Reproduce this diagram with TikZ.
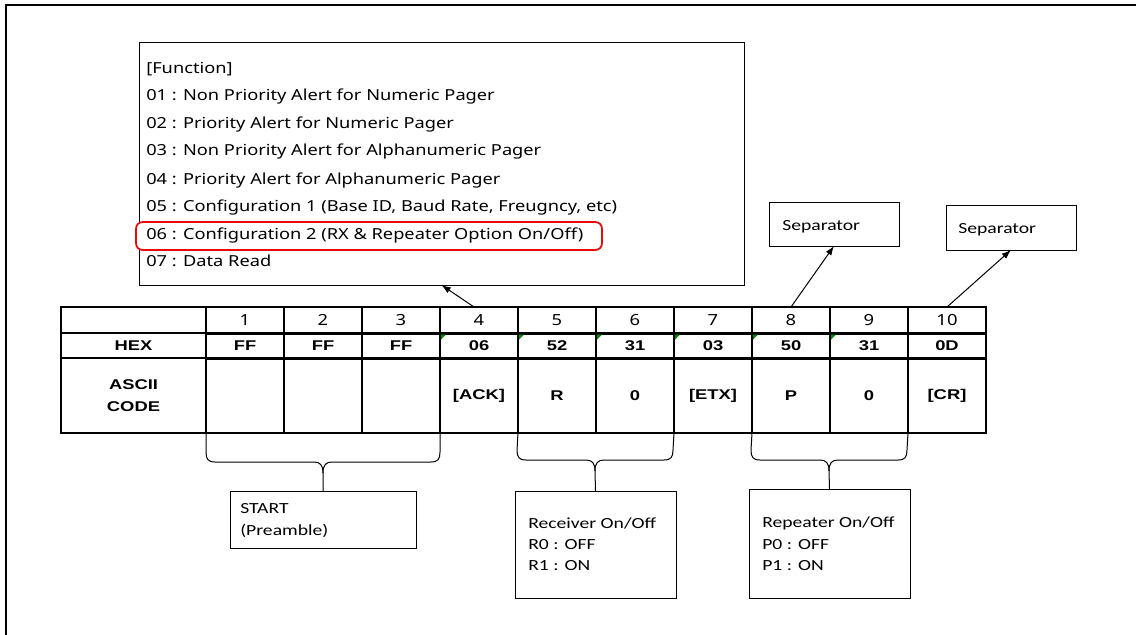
\documentclass[tikz,border=0pt]{standalone}
\usepackage{fontspec}
\usetikzlibrary{arrows.meta,calc}
\newfontfamily\fnfont{Noto Sans}[FakeStretch=1.2]
\newfontfamily\tbfont{Liberation Sans}[FakeStretch=1.3]
\newfontfamily\cbfont{Carlito}[FakeStretch=1.27]
\definecolor{hlred}{RGB}{235,10,10}
\definecolor{cmtgreen}{RGB}{0,140,0}
\begin{document}
\begin{tikzpicture}[x=0.75pt,y=-0.75pt,
  box/.style={draw,line width=0.75pt,inner sep=0,outer sep=0},
  cell/.style={draw,line width=1.5pt,inner sep=0,outer sep=0,minimum width=58.5pt},
  fnline/.style={anchor=base west,inner sep=0,font=\fnfont\fontsize{11.4}{13}\selectfont},
  numtxt/.style={font=\fnfont\fontsize{11.5}{13}\selectfont},
  boldtxt/.style={font=\tbfont\bfseries\fontsize{10.6}{16.5}\selectfont,align=center},
  boxtxt/.style={anchor=base west,inner sep=0,font=\cbfont\fontsize{11.6}{13}\selectfont},
  arr/.style={-{Latex[length=7pt,width=5pt]},line width=0.75pt},
  brace/.style={line width=0.75pt}]
\useasboundingbox (0,0) rectangle (1136,635);
% outer frame
\draw[line width=1.6pt] (6,640) -- (6,5) -- (1140,5);

% function box
\node[box,minimum width=453.75pt,minimum height=181.5pt] (fn) at (441.5,164) {};
\node[fnline] (f0) at (146,73.5) {[Function]};
\node[fnline] (f1) at (146,101) {01 : Non Priority Alert for Numeric Pager};
\node[fnline] (f2) at (146,128.5) {02 : Priority Alert for Numeric Pager};
\node[fnline] (f3) at (146,156) {03 : Non Priority Alert for Alphanumeric Pager};
\node[fnline] (f4) at (146,184) {04 : Priority Alert for Alphanumeric Pager};
\node[fnline] (f5) at (146,211.5) {05 : Configuration 1 (Base ID, Baud Rate, Freugncy, etc)};
\node[draw=hlred,line width=1.3pt,rounded corners=5pt,fill=white,inner sep=0,minimum width=349.5pt,minimum height=21pt] (hl) at (369,236) {};
\node[fnline] (f6) at (146,239) {06 : Configuration 2 (RX \& Repeater Option On/Off)};
\node[fnline] (f7) at (146,266.5) {07 : Data Read};

% table
\node[cell,minimum width=108.75pt,minimum height=19.5pt] (n0) at (133.5,320) {};
\node[cell,minimum width=108.75pt,minimum height=18.75pt,boldtxt] (h0) at (133.5,345.5) {HEX};
\node[cell,minimum width=108.75pt,minimum height=56.25pt,boldtxt] (a0) at (133.5,395.5) {ASCII\\CODE};
\foreach \i/\hv/\av in {1/FF/,2/FF/,3/FF/,4/06/[ACK],5/52/R,6/31/0,7/03/[ETX],8/50/P,9/31/0,10/0D/[CR]}{
  \node[cell,minimum height=19.5pt,numtxt] (n\i) at ({167+78*\i},320) {\i};
  \node[cell,minimum height=18.75pt,boldtxt] (h\i) at ({167+78*\i},346) {\hv};
  \node[cell,minimum height=56.25pt,boldtxt] (a\i) at ({167+78*\i},395.5) {\av};
}
\foreach \i in {4,...,9}{
  \fill[cmtgreen] ($(h\i.north west)+(1,1)$) -- ++(5,0) -- ++(-5,5) -- cycle;
}

% separators
\node[box,minimum width=97.5pt,minimum height=33pt] (s1) at (834,224) {};
\node[boxtxt] (s1t) at (782,230) {Separator};
\node[box,minimum width=97.5pt,minimum height=33.75pt] (s2) at (1011,227.5) {};
\node[boxtxt] (s2t) at (958,233) {Separator};

% arrows
\draw[arr] ($(n4.north)+(-5,0)$) -- (fn.south);
\draw[arr] (n8.north) -- (s1.south);
\draw[arr] (n10.north) -- (s2.south);

% bottom boxes
\node[box,minimum width=139.5pt,minimum height=42.75pt] (st) at (323,519.5) {};
\node[boxtxt] (st1) at (240,513) {START};
\node[boxtxt] (st2) at (240,535) {(Preamble)};
\node[box,minimum width=120.75pt,minimum height=80.25pt] (rx) at (595.5,544.5) {};
\node[boxtxt] (rx1) at (528,528.5) {Receiver On/Off};
\node[boxtxt] (rx2) at (528,549.5) {R0 : OFF};
\node[boxtxt] (rx3) at (528,570) {R1 : ON};
\node[box,minimum width=120.75pt,minimum height=81.75pt] (rp) at (829.5,543.5) {};
\node[boxtxt] (rp1) at (762,527.5) {Repeater On/Off};
\node[boxtxt] (rp2) at (762,549.5) {P0 : OFF};
\node[boxtxt] (rp3) at (762,570) {P1 : ON};

% braces
\draw[brace] (a1.south west) -- (206,452) .. controls (206,459) and (208,462) .. (215,462) -- (314,462) .. controls (320,462) and (323,465) .. (323,473) -- (st.north);
\draw[brace] (a3.south east) -- (440,452) .. controls (440,459) and (438,462) .. (431,462) -- (332,462) .. controls (326,462) and (323,465) .. (323,473);
\draw[brace] (a5.south west) -- (517,450) .. controls (517,457) and (519,460) .. (526,460) -- (586,460) .. controls (592,460) and (595,463) .. (595,471) -- (rx.north);
\draw[brace] (a6.south east) -- (673,450) .. controls (673,457) and (671,460) .. (664,460) -- (604,460) .. controls (598,460) and (595,463) .. (595,471);
\draw[brace] (a8.south west) -- (751,450) .. controls (751,457) and (753,460) .. (760,460) -- (820,460) .. controls (826,460) and (829,463) .. (829,471) -- (rp.north);
\draw[brace] (a10.south west) -- (907,450) .. controls (907,457) and (905,460) .. (898,460) -- (838,460) .. controls (832,460) and (829,463) .. (829,471);
\end{tikzpicture}
\end{document}
